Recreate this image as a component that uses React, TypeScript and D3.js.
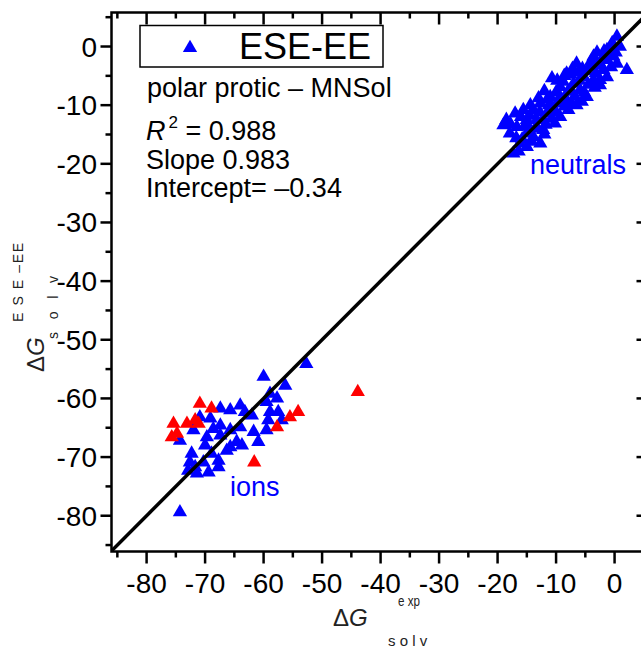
import React from "react";
import * as d3 from "d3";

const majorTicks = [-80, -70, -60, -50, -40, -30, -20, -10, 0];
const majorLabels = ["-80", "-70", "-60", "-50", "-40", "-30", "-20", "-10", "0"];
const minorTicks = [-85, -75, -65, -55, -45, -35, -25, -15, -5, 5];

const neutralsBlue: [number, number][] = [
  [0.4, 1.7], [2.1, -4.0], [-10.7, -5.4], [-19.0, -13.4], [-17.0, -11.4], [-15.6, -10.8],
  [-16.4, -17.9], [-15.0, -17.1], [-10.2, -13.1], [-12.2, -14.2], [-12.7, -16.5], [-4.75, -8.6],
  [-2.5, -5.7], [0.4, -2.9], [0.9, 0], [-1.3, -0.6], [-3.6, -1.7], [-6.5, -2.9], [-8.2, -4.6],
  [-9.3, -6.9], [-11.0, -8.6], [-12.7, -9.7], [-13.9, -10.8], [-15.0, -12.5], [-16.7, -13.7],
  [-17.9, -14.8], [-15.0, -14.8], [-13.3, -13.7], [-10.5, -10.8], [-8.2, -9.1], [-5.9, -7.4],
  [-3.6, -5.7], [-1.9, -4.0], [-0.2, -1.7], [-2.5, -2.9], [-7.0, -6.3], [-9.3, -8.6],
  [-11.6, -11.4], [-13.3, -12.5], [-9.9, -9.7], [-7.6, -7.4], [-5.3, -5.2], [-4.2, -3.4],
  [-1.3, -2.3], [-12.2, -12.5], [-13.9, -15.4], [-16.2, -16.5], [-17.3, -18.2], [-5.6, -9.4],
  [-2.5, -6.6], [-1.3, -5.2], [-9.3, -12.0], [-7.9, -10.8], [-6.5, -10.0],
  [-18.5, -12.5], [-17.8, -13.2], [-14.5, -11.8], [-11.5, -9.0], [-10.0, -7.8], [-8.8, -6.0],
  [-7.5, -4.8], [-5.5, -3.8], [-3.0, -1.0], [-0.8, -0.3], [0.2, -1.0], [-0.6, -3.5],
  [-3.2, -4.5], [-4.5, -6.5], [-6.8, -8.5], [-8.5, -10.2], [-10.8, -12.3], [-11.8, -13.3],
  [-14.2, -16.2], [-15.8, -15.8], [-14.8, -13.5], [-12.8, -11.2], [-6.0, -5.8], [-2.0, -2.0],
  [-1.0, -1.2], [-4.0, -2.5], [-9.8, -5.8], [-8.0, -7.7], [-11.2, -10.0], [-16.0, -12.0],
  [-13.0, -8.8], [-7.2, -3.8], [-4.8, -4.2], [-3.0, -3.2], [-1.8, -0.8], [-0.4, 0.6],
  [-5.2, -7.8], [-3.4, -7.0], [-7.4, -9.6], [-10.0, -11.2], [-12.0, -15.0], [-13.6, -14.0],
  [-15.4, -13.6], [-16.8, -15.6], [-14.4, -10.0], [-12.0, -7.6], [-8.6, -5.0], [-6.2, -4.4],
];

const ionsBlue: [number, number][] = [
  [-74.3, -79.4], [-60.0, -56.3], [-52.7, -54.1], [-56.3, -57.8], [-58.9, -59.2], [-57.7, -60.0],
  [-59.5, -60.6], [-64.0, -61.2], [-65.7, -62.0], [-67.4, -61.7], [-63.2, -62.3], [-62.0, -62.9],
  [-58.9, -62.3], [-57.5, -62.3], [-56.9, -63.7], [-59.2, -63.7], [-69.1, -63.4], [-67.4, -64.6],
  [-68.6, -65.2], [-72.0, -65.4], [-65.7, -65.4], [-64.0, -64.9], [-61.7, -65.7], [-59.5, -65.4],
  [-74.3, -67.2], [-69.7, -66.6], [-67.4, -66.3], [-64.6, -67.4], [-60.9, -67.4], [-70.0, -68.0],
  [-65.7, -68.3], [-63.7, -68.0], [-72.3, -69.4], [-68.9, -69.4], [-66.3, -68.9], [-72.6, -70.9],
  [-70.3, -70.9], [-67.7, -70.6], [-72.9, -72.3], [-71.4, -72.8], [-69.4, -72.6], [-67.7, -71.7],
  [-71.7, -71.7], [-70.9, -63.2],
];

const ionsRed: [number, number][] = [
  [-43.9, -58.9], [-70.9, -60.9], [-68.9, -61.7], [-75.4, -64.3], [-73.1, -64.3], [-71.7, -63.7],
  [-71.1, -64.3], [-75.7, -66.6], [-74.8, -66.0], [-55.5, -63.2], [-54.1, -62.3], [-57.7, -64.9],
  [-61.6, -70.9],
];

const statLines = ["Slope 0.983", "Intercept= \u20130.34"];

const FONT = "'Liberation Sans', Arial, sans-serif";

export default function App() {
  const x = d3.scaleLinear().domain([-86, 5.8]).range([111.5, 648.5]);
  const y = d3.scaleLinear().domain([-86.1, 5.8]).range([551.5, 12.5]);
  const [x0, x1] = x.range();
  const [yb, yt] = y.range();
  const tri = d3.symbol().type(d3.symbolTriangle).size(88)()!;
  const line = d3.line<number>().x((v) => x(v)).y((v) => y(v));
  const lineDomain = [-86, 5.8];
  const sw = 2.5;

  return (
    <svg
      width={641}
      height={648}
      style={{ position: "absolute", left: 0, top: 0, background: "#fff", overflow: "hidden" }}
      fontFamily={FONT}
    >
      <defs>
        <clipPath id="plotclip">
          <rect x={x0} y={yt} width={x1 - x0} height={yb - yt} />
        </clipPath>
      </defs>
      <rect x={0} y={0} width={641} height={648} fill="#fff" />

      {/* points */}
      <g clipPath="url(#plotclip)">
        {neutralsBlue.map((d, i) => (
          <path key={"n" + i} d={tri} transform={`translate(${x(d[0])},${y(d[1])})`} fill="#0000ff" />
        ))}
        {ionsBlue.map((d, i) => (
          <path key={"b" + i} d={tri} transform={`translate(${x(d[0])},${y(d[1])})`} fill="#0000ff" />
        ))}
        {ionsRed.map((d, i) => (
          <path key={"r" + i} d={tri} transform={`translate(${x(d[0])},${y(d[1])})`} fill="#ff0000" />
        ))}
        <path d={line(lineDomain)!} stroke="#000" strokeWidth={3.5} fill="none" />
      </g>

      {/* frame */}
      <rect x={x0} y={yt} width={x1 - x0} height={yb - yt} fill="none" stroke="#000" strokeWidth={sw} />

      {/* bottom ticks (outward) and top ticks (inward) */}
      {majorTicks.map((v) => (
        <g key={"xm" + v}>
          <line x1={x(v)} x2={x(v)} y1={yb} y2={yb + 12} stroke="#000" strokeWidth={sw} />
          <line x1={x(v)} x2={x(v)} y1={yt} y2={yt + 12} stroke="#000" strokeWidth={sw} />
        </g>
      ))}
      {minorTicks.map((v) => (
        <g key={"xn" + v}>
          <line x1={x(v)} x2={x(v)} y1={yb} y2={yb + 6} stroke="#000" strokeWidth={sw} />
          <line x1={x(v)} x2={x(v)} y1={yt} y2={yt + 6} stroke="#000" strokeWidth={sw} />
        </g>
      ))}
      {/* left ticks (outward) and right ticks (inward) */}
      {majorTicks.map((v) => (
        <g key={"ym" + v}>
          <line x1={x0 - 11} x2={x0} y1={y(v)} y2={y(v)} stroke="#000" strokeWidth={sw} />
          <line x1={x1 - 12} x2={x1} y1={y(v)} y2={y(v)} stroke="#000" strokeWidth={sw} />
        </g>
      ))}
      {minorTicks.map((v) => (
        <g key={"yn" + v}>
          <line x1={x0 - 6} x2={x0} y1={y(v)} y2={y(v)} stroke="#000" strokeWidth={sw} />
          <line x1={x1 - 6} x2={x1} y1={y(v)} y2={y(v)} stroke="#000" strokeWidth={sw} />
        </g>
      ))}

      {/* tick labels */}
      {majorTicks.map((v, i) => (
        <text key={"xl" + v} x={x(v)} y={593} textAnchor="middle" fontSize={28} fill="#000">
          {majorLabels[i]}
        </text>
      ))}
      {majorTicks.map((v, i) => (
        <text key={"yl" + v} x={97} y={y(v) + 10} textAnchor="end" fontSize={28} fill="#000">
          {majorLabels[i]}
        </text>
      ))}

      {/* legend */}
      <rect x={140} y={25.5} width={243} height={41.5} fill="#fff" stroke="#000" strokeWidth={1.5} />
      <path d={tri} transform="translate(190,48)" fill="#0000ff" />
      <text x={239} y={59} fontSize={36} fill="#000">ESE-EE</text>

      <text x={147} y={97} fontSize={27} fill="#000">polar protic {"\u2013"} MNSol</text>
      <text x={146} y={140} fontSize={27} fill="#000">
        <tspan fontStyle="italic">R</tspan>
        <tspan fontSize={17} dx={3} dy={-12}>2</tspan>
        <tspan dy={12}> = 0.988</tspan>
      </text>
      {statLines.map((s, i) => (
        <text key={s} x={146} y={168.5 + i * 28.5} fontSize={27} fill="#000">{s}</text>
      ))}

      {/* annotations */}
      <text x={530} y={174} fontSize={27} fill="#0000ff">neutrals</text>
      <text x={230} y={496} fontSize={27} fill="#0000ff">ions</text>

      {/* x axis title */}
      <g fill="#222">
        <text x={333} y={626} fontSize={24}>
          {"\u0394"}<tspan fontStyle="italic">G</tspan>
        </text>
        <text x={398} y={606} fontSize={15} textLength={22} lengthAdjust="spacingAndGlyphs">e xp</text>
        <text x={388} y={646} fontSize={15}>s o l v</text>
      </g>

      {/* y axis title */}
      <g fill="#222" transform="rotate(-90)">
        <text x={-372} y={44} fontSize={24}>
          {"\u0394"}<tspan fontStyle="italic">G</tspan>
        </text>
        <text x={-339} y={58} fontSize={14} textLength={63} lengthAdjust="spacing">s o l v</text>
        <text x={-322} y={23} fontSize={14} textLength={79} lengthAdjust="spacing">E S E {"\u2013"}EE</text>
      </g>
    </svg>
  );
}
